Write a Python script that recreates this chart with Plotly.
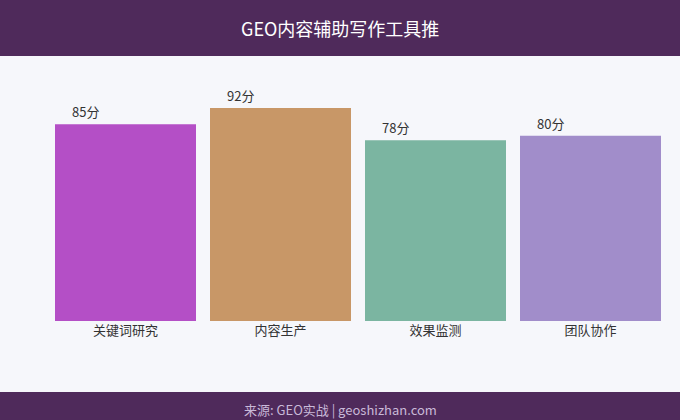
import plotly.graph_objects as go

categories = ["关键词研究", "内容生产", "效果监测", "团队协作"]
scores = [85, 92, 78, 80]
colors = ["#b44fc6", "#c89767", "#7bb5a1", "#a18dca"]
value_labels = [f"{v}分" for v in scores]
title_text = "GEO内容辅助写作工具推"
source_text = "来源: GEO实战 | geoshizhan.com"

FONT = "Noto Sans CJK SC, Noto Sans, sans-serif"
W, H = 680, 420
ML, MR, MT, MB = 48, 12, 60, 99
PH = H - MT - MB
PW = W - ML - MR

def py(pix):
    return (H - MB - pix) / PH

def px(pix):
    return (pix - ML) / PW

fig = go.Figure()
fig.add_trace(go.Bar(
    x=categories, y=scores, marker=dict(color=colors, line=dict(width=0)),
    hoverinfo="skip", showlegend=False,
))

annotations = []
for c, v, t in zip(categories, scores, value_labels):
    annotations.append(dict(x=c, y=v, xref="x", yref="y", text=t, showarrow=False,
                            xanchor="left", yanchor="bottom", xshift=-56, yshift=1,
                            font=dict(family=FONT, size=13, color="#333333")))
annotations.append(dict(x=0.5 * (px(0) + px(W)), y=py(28), xref="paper", yref="paper", text=title_text,
                        showarrow=False, xanchor="center", yanchor="middle",
                        font=dict(family=FONT, size=18, color="#ffffff")))
annotations.append(dict(x=px(340), y=py(409), xref="paper", yref="paper", text=source_text,
                        showarrow=False, xanchor="center", yanchor="middle",
                        font=dict(family=FONT, size=13, color="#c9b9d8")))

shapes = [
    dict(type="rect", xref="paper", yref="paper", x0=px(0), x1=px(W), y0=py(56), y1=py(0),
         fillcolor="#4f2a5b", line=dict(width=0), layer="below"),
    dict(type="rect", xref="paper", yref="paper", x0=px(0), x1=px(W), y0=py(H), y1=py(392),
         fillcolor="#4f2a5b", line=dict(width=0), layer="below"),
]

fig.update_layout(
    width=W, height=H,
    margin=dict(l=ML, r=MR, t=MT, b=MB),
    paper_bgcolor="#f6f7fb", plot_bgcolor="#f6f7fb",
    bargap=14 / 155,
    xaxis=dict(showgrid=False, zeroline=False, showline=False, ticks="",
               tickfont=dict(family=FONT, size=13, color="#333333")),
    yaxis=dict(range=[0, 112.7], visible=False, showgrid=False, zeroline=False),
    annotations=annotations, shapes=shapes,
    font=dict(family=FONT),
)

fig.write_html("out.html", config={"displayModeBar": False},
               post_script="document.body.style.margin='0';document.body.style.overflow='hidden';")
